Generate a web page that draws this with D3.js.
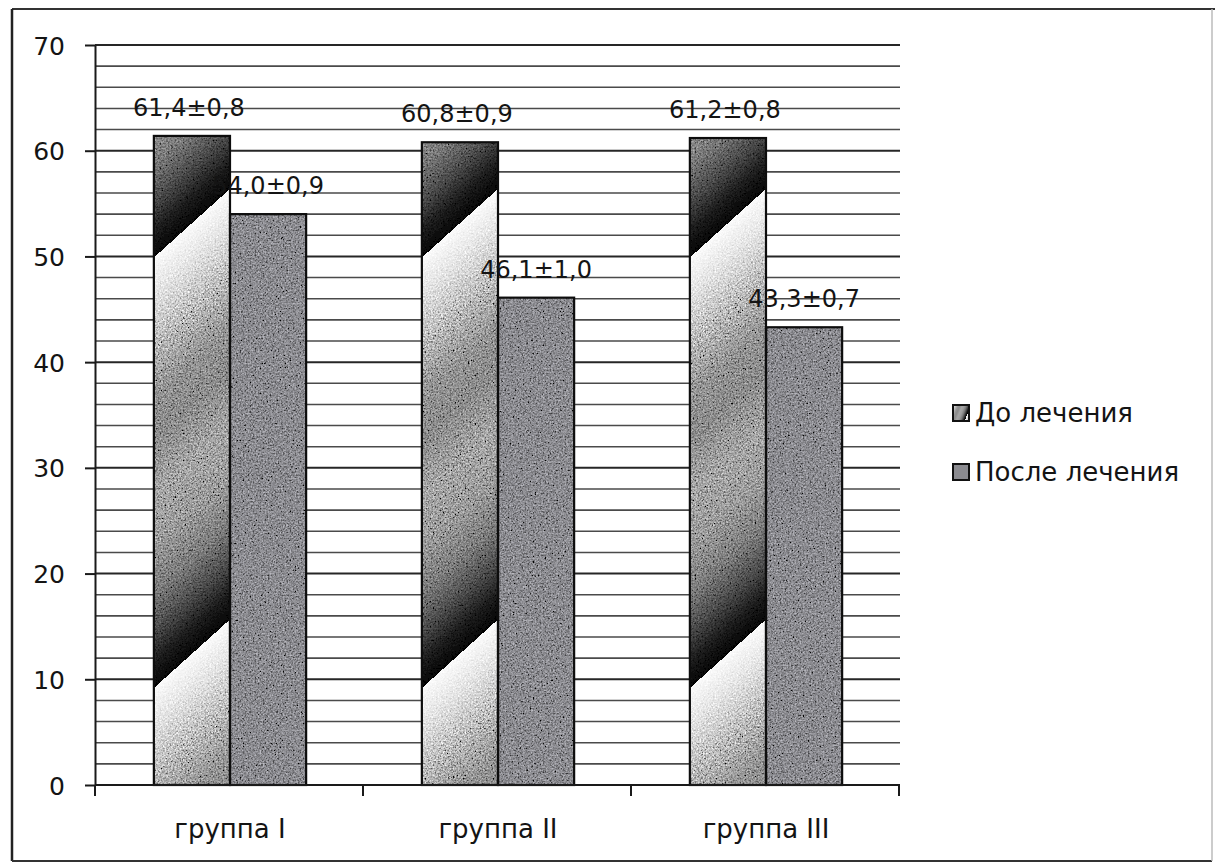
<!DOCTYPE html>
<html>
<head>
<meta charset="utf-8">
<script src="https://cdn.jsdelivr.net/npm/d3@7/dist/d3.min.js"></script>
<style>
  html, body { margin: 0; padding: 0; background: #fff; }
  svg { display: block; }
  text { font-family: "DejaVu Sans", Verdana, sans-serif; fill: #141414; }
</style>
</head>
<body>
<script>
// ---- data ----
const groups = ["группа I", "группа II", "группа III"];
const seriesNames = ["До лечения", "После лечения"];
const beforeValues = [61.4, 60.8, 61.2];
const beforeErrors = [0.8, 0.9, 0.8];
const afterValues = [54.0, 46.1, 43.3];
const afterErrors = [0.9, 1.0, 0.7];
const yTicks = [0, 10, 20, 30, 40, 50, 60, 70];
const yMinorStep = 2;

// ---- layout ----
const W = 1215, H = 865;
const plot = { left: 96, right: 900, top: 45, bottom: 785 };

const svg = d3.select("body").append("svg").attr("width", W).attr("height", H);
const defs = svg.append("defs");

const y = d3.scaleLinear().domain([0, 70]).range([plot.bottom, plot.top]);
const x0 = d3.scaleBand().domain(groups).range([plot.left, plot.right]).padding(0);
const x1 = d3.scaleBand().domain(seriesNames).range([0, x0.bandwidth()])
  .paddingInner(0).paddingOuter(0.76);

const fmt = v => d3.format(".1f")(v).replace(".", ",");

// grain filter (scanned look)
const grain = defs.append("filter").attr("id", "grain")
  .attr("x", 0).attr("y", 0).attr("width", 1).attr("height", 1);
grain.append("feTurbulence").attr("type", "fractalNoise").attr("baseFrequency", 0.6)
  .attr("numOctaves", 3).attr("seed", 7).attr("result", "t");
grain.append("feColorMatrix").attr("in", "t").attr("type", "matrix")
  .attr("values", "0.85 0.85 0.85 0 -0.78  0.85 0.85 0.85 0 -0.78  0.85 0.85 0.85 0 -0.78  0 0 0 0 1")
  .attr("result", "g");
grain.append("feBlend").attr("in", "g").attr("in2", "SourceGraphic").attr("mode", "overlay").attr("result", "b");
grain.append("feComposite").attr("in", "b").attr("in2", "SourceGraphic").attr("operator", "in");

// diagonal sawtooth gradient stops for "До лечения"
const sawStops = [
  [0.00, "#050505"], [0.06, "#1c1c1c"], [0.13, "#4a4a4a"], [0.22, "#7c7c7c"],
  [0.33, "#9c9c9c"], [0.45, "#a6a6a6"], [0.58, "#8c8c8c"], [0.68, "#949494"],
  [0.80, "#bdbdbd"], [0.92, "#e6e6e6"], [1.00, "#fbfbfb"]
];
function addSawGradient(id, bx, by0, perp, offsetUp) {
  // start: point on lower edge at the bar's left side; end: perpendicular, up-left
  const g = defs.append("linearGradient").attr("id", id)
    .attr("gradientUnits", "userSpaceOnUse").attr("spreadMethod", "repeat")
    .attr("x1", bx).attr("y1", by0 - offsetUp)
    .attr("x2", bx - perp * 0.669).attr("y2", by0 - offsetUp - perp * 0.743);
  sawStops.forEach(s => g.append("stop").attr("offset", s[0]).attr("stop-color", s[1]));
}
// legend swatch gradient
const lg = defs.append("linearGradient").attr("id", "legendSaw")
  .attr("x1", 1).attr("y1", 0.3).attr("x2", 0).attr("y2", -0.1).attr("spreadMethod", "repeat");
sawStops.forEach(s => lg.append("stop").attr("offset", s[0]).attr("stop-color", s[1]));

// ---- gridlines ----
const grid = svg.append("g");
const minor = d3.range(yMinorStep, 70, yMinorStep).filter(v => v % 10 !== 0);
grid.selectAll("line.minor").data(minor).join("line")
  .attr("x1", plot.left - 1).attr("x2", plot.right)
  .attr("y1", d => y(d)).attr("y2", d => y(d))
  .attr("stroke", "#4a4a4a").attr("stroke-width", 1.6);
grid.selectAll("line.major").data(yTicks.filter(v => v > 0)).join("line")
  .attr("x1", plot.left - 1).attr("x2", plot.right)
  .attr("y1", d => y(d)).attr("y2", d => y(d))
  .attr("stroke", "#262626").attr("stroke-width", 2);

// ---- y axis ----
const yAxis = svg.append("g").attr("transform", `translate(${plot.left - 1},0)`)
  .call(d3.axisLeft(y).tickValues(yTicks).tickSize(10).tickSizeOuter(0).tickPadding(20));
yAxis.select(".domain").attr("stroke", "#1a1a1a").attr("stroke-width", 2);
yAxis.selectAll(".tick line").attr("stroke", "#1a1a1a").attr("stroke-width", 2);
yAxis.selectAll(".tick text").style("font-size", "25px").attr("fill", "#111")
  .style("font-family", "DejaVu Sans").attr("dy", "0.36em");

// ---- bars ----
const bars = svg.append("g");
groups.forEach((g, i) => {
  const bx = x0(g) + x1(seriesNames[0]);
  const ax = x0(g) + x1(seriesNames[1]);
  const bw = x1.bandwidth();
  addSawGradient("saw" + i, bx, y(0), 320, 97);
  bars.append("rect").attr("x", bx).attr("y", y(beforeValues[i]))
    .attr("width", bw).attr("height", y(0) - y(beforeValues[i]))
    .attr("fill", `url(#saw${i})`).attr("filter", "url(#grain)");
  bars.append("rect").attr("x", ax).attr("y", y(afterValues[i]))
    .attr("width", bw).attr("height", y(0) - y(afterValues[i]))
    .attr("fill", "#8b8b90").attr("filter", "url(#grain)");
  bars.append("rect").attr("x", bx).attr("y", y(beforeValues[i]))
    .attr("width", bw).attr("height", y(0) - y(beforeValues[i]))
    .attr("fill", "none").attr("stroke", "#0d0d0d").attr("stroke-width", 2.2);
  bars.append("rect").attr("x", ax).attr("y", y(afterValues[i]))
    .attr("width", bw).attr("height", y(0) - y(afterValues[i]))
    .attr("fill", "none").attr("stroke", "#0d0d0d").attr("stroke-width", 2.2);
});

// ---- x axis ----
svg.append("line").attr("x1", plot.left - 1).attr("x2", plot.right)
  .attr("y1", y(0)).attr("y2", y(0)).attr("stroke", "#1a1a1a").attr("stroke-width", 2.2);
const bounds = [x0.range()[0]].concat(groups.map(g => x0(g) + x0.bandwidth()));
svg.selectAll("line.xt").data(bounds).join("line")
  .attr("x1", d => d - 1).attr("x2", d => d - 1)
  .attr("y1", y(0)).attr("y2", y(0) + 11)
  .attr("stroke", "#1a1a1a").attr("stroke-width", 2);
svg.selectAll("text.cat").data(groups).join("text")
  .attr("x", d => x0(d) + x0.bandwidth() / 2).attr("y", 838)
  .attr("text-anchor", "middle").style("font-size", "26px").text(d => d);

// ---- value labels ----
const labels = svg.append("g");
groups.forEach((g, i) => {
  labels.append("text")
    .attr("x", x0(g) + x1(seriesNames[0]) + x1.bandwidth() / 2 - 3)
    .attr("y", y(beforeValues[i]) - 20).attr("text-anchor", "middle")
    .style("font-size", "24px").text(fmt(beforeValues[i]) + "±" + fmt(beforeErrors[i]));
  labels.append("text")
    .attr("x", x0(g) + x1(seriesNames[1]) + x1.bandwidth() / 2)
    .attr("y", y(afterValues[i]) - 20).attr("text-anchor", "middle")
    .style("font-size", "24px").text(fmt(afterValues[i]) + "±" + fmt(afterErrors[i]));
});

// ---- legend ----
const legend = svg.append("g").attr("transform", "translate(953,405)");
const swatches = ["url(#legendSaw)", "#8b8b90"];
seriesNames.forEach((s, i) => {
  const row = legend.append("g").attr("transform", `translate(0,${i * 59})`);
  row.append("rect").attr("width", 16).attr("height", 16)
    .attr("fill", swatches[i]).attr("stroke", "#111").attr("stroke-width", 2);
  row.append("text").attr("x", 22).attr("y", 17).style("font-size", "26px").text(s);
});

// ---- outer border ----
svg.append("line").attr("x1", 12).attr("x2", 1215).attr("y1", 9).attr("y2", 9)
  .attr("stroke", "#333").attr("stroke-width", 2);
svg.append("line").attr("x1", 12).attr("x2", 12).attr("y1", 9).attr("y2", 861)
  .attr("stroke", "#222").attr("stroke-width", 2.5);
svg.append("line").attr("x1", 12).attr("x2", 1212).attr("y1", 861).attr("y2", 861)
  .attr("stroke", "#333").attr("stroke-width", 2);
svg.append("line").attr("x1", 1212).attr("x2", 1212).attr("y1", 9).attr("y2", 861)
  .attr("stroke", "#bbb").attr("stroke-width", 1.5);
</script>
</body>
</html>
